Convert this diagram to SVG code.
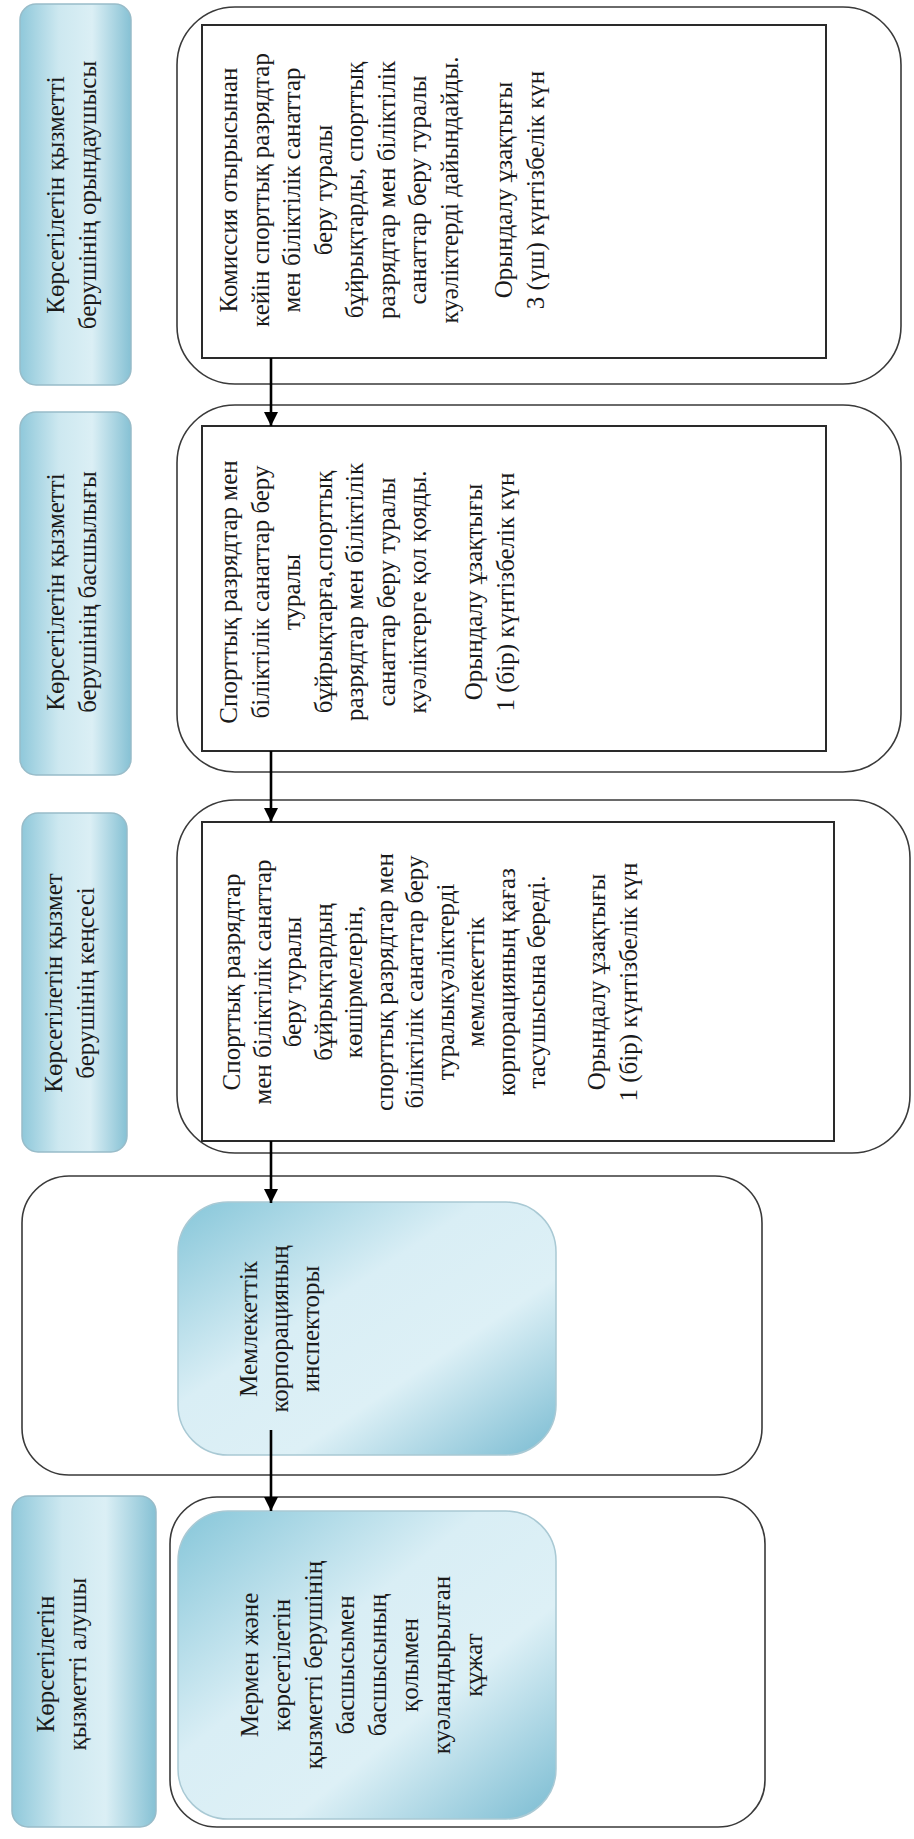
<svg xmlns="http://www.w3.org/2000/svg" width="914" height="1839" viewBox="0 0 914 1839">
<style>
.t{font-family:"Liberation Serif","Times New Roman",serif;font-size:25px;fill:#1a1a1a;text-anchor:middle}
.outer{fill:#fff;stroke:#3a3a3a;stroke-width:1.6}
.inner{fill:#fff;stroke:#2a2a2a;stroke-width:2}
.lbl{fill:url(#gLbl);stroke:#98bcc9;stroke-width:1.5}
.blue{fill:url(#gBlue);stroke:#a9c9d4;stroke-width:1.5}
.arr{stroke:#000;stroke-width:2.6;fill:none;marker-end:url(#ah)}
</style>
<defs>
<linearGradient id="gLbl" x1="0" y1="0" x2="1" y2="0">
<stop offset="0" stop-color="#8fc8da"/>
<stop offset="0.35" stop-color="#cde8f0"/>
<stop offset="0.65" stop-color="#dbeff5"/>
<stop offset="1" stop-color="#86c1d4"/>
</linearGradient>
<linearGradient id="gBlue" x1="0" y1="0" x2="1" y2="1">
<stop offset="0" stop-color="#86c6d9"/>
<stop offset="0.4" stop-color="#d9eef5"/>
<stop offset="0.65" stop-color="#ddf0f6"/>
<stop offset="1" stop-color="#7bbcd2"/>
</linearGradient>
<marker id="ah" viewBox="0 0 14 14" refX="14" refY="7" markerWidth="14" markerHeight="14" markerUnits="userSpaceOnUse" orient="auto">
<path d="M0,0 L14,7 L0,14 z" fill="#000"/>
</marker>
</defs>

<g id="lane1">
<rect id="label1" class="lbl" x="20" y="4" width="111" height="381" rx="16"/>
<text class="t" transform="translate(0,195) rotate(-90)"><tspan x="0" y="64">Көрсетілетін қызметті</tspan><tspan x="0" y="96">берушінің орындаушысы</tspan></text>
<rect class="outer" x="177" y="7" width="724" height="377" rx="58"/>
<g id="step1">
<rect class="inner" x="202" y="25" width="624" height="333"/>
<text class="t" transform="translate(0,190) rotate(-90)"><tspan x="0" y="237">Комиссия отырысынан</tspan><tspan x="0" y="268.5">кейін спорттық разрядтар</tspan><tspan x="0" y="300">мен біліктілік санаттар</tspan><tspan x="0" y="331.5">беру туралы</tspan><tspan x="0" y="363">бұйрықтарды, спорттық</tspan><tspan x="0" y="394.5">разрядтар мен біліктілік</tspan><tspan x="0" y="426">санаттар беру туралы</tspan><tspan x="0" y="457.5">куәліктерді дайындайды.</tspan><tspan x="0" y="512">Орындалу ұзақтығы</tspan><tspan x="0" y="544">3 (үш) күнтізбелік күн</tspan></text>
</g>
</g>

<g id="lane2">
<rect id="label2" class="lbl" x="20" y="412" width="111" height="363" rx="16"/>
<text class="t" transform="translate(0,592) rotate(-90)"><tspan x="0" y="64">Көрсетілетін қызметті</tspan><tspan x="0" y="96">берушінің басшылығы</tspan></text>
<rect class="outer" x="177" y="405" width="724" height="367" rx="58"/>
<g id="step2">
<rect class="inner" x="202" y="426" width="624" height="325"/>
<text class="t" transform="translate(0,592) rotate(-90)"><tspan x="0" y="237">Спорттық разрядтар мен</tspan><tspan x="0" y="268.5">біліктілік санаттар беру</tspan><tspan x="0" y="300">туралы</tspan><tspan x="0" y="331.5">бұйрықтарға,спорттық</tspan><tspan x="0" y="363">разрядтар мен біліктілік</tspan><tspan x="0" y="394.5">санаттар беру туралы</tspan><tspan x="0" y="426">куәліктерге қол қояды.</tspan><tspan x="0" y="481.5">Орындалу ұзақтығы</tspan><tspan x="0" y="513.5">1 (бір) күнтізбелік күн</tspan></text>
</g>
</g>

<g id="lane3">
<rect id="label3" class="lbl" x="22" y="813" width="105" height="339" rx="16"/>
<text class="t" transform="translate(0,983) rotate(-90)"><tspan x="0" y="62">Көрсетілетін қызмет</tspan><tspan x="0" y="94">берушінің кеңсесі</tspan></text>
<rect class="outer" x="177" y="800" width="733" height="353" rx="58"/>
<g id="step3">
<rect class="inner" x="202" y="822" width="632" height="319"/>
<text class="t" transform="translate(0,982) rotate(-90)"><tspan x="0" y="240">Спорттық разрядтар</tspan><tspan x="0" y="270.5">мен біліктілік санаттар</tspan><tspan x="0" y="301">беру туралы</tspan><tspan x="0" y="331.5">бұйрықтардың</tspan><tspan x="0" y="362">көшірмелерін,</tspan><tspan x="0" y="392.5">спорттық разрядтар мен</tspan><tspan x="0" y="423">біліктілік санаттар беру</tspan><tspan x="0" y="453.5">туралыкуәліктерді</tspan><tspan x="0" y="484">мемлекеттік</tspan><tspan x="0" y="514.5">корпорацияның қағаз</tspan><tspan x="0" y="545">тасушысына береді.</tspan><tspan x="0" y="605">Орындалу ұзақтығы</tspan><tspan x="0" y="637">1 (бір) күнтізбелік күн</tspan></text>
</g>
</g>

<g id="lane4">
<rect class="outer" x="22" y="1176" width="740" height="299" rx="47"/>
<g id="step4">
<rect class="blue" x="178" y="1202" width="378" height="253" rx="50"/>
<text class="t" transform="translate(0,1329) rotate(-90)"><tspan x="0" y="257">Мемлекеттік</tspan><tspan x="0" y="288">корпорацияның</tspan><tspan x="0" y="319">инспекторы</tspan></text>
</g>
</g>

<g id="lane5">
<rect id="label5" class="lbl" x="12" y="1496" width="144" height="331" rx="16"/>
<text class="t" transform="translate(0,1664) rotate(-90)"><tspan x="0" y="54">Көрсетілетін</tspan><tspan x="0" y="86">қызметті алушы</tspan></text>
<rect class="outer" x="170" y="1497" width="595" height="330" rx="47"/>
<g id="step5">
<rect class="blue" x="178" y="1511" width="378" height="308" rx="50"/>
<text class="t" transform="translate(0,1665) rotate(-90)"><tspan x="0" y="258">Мермен және</tspan><tspan x="0" y="290">көрсетілетін</tspan><tspan x="0" y="322">қызметті берушінің</tspan><tspan x="0" y="354">басшысымен</tspan><tspan x="0" y="386">басшысының</tspan><tspan x="0" y="418">қолымен</tspan><tspan x="0" y="450">куәландырылған</tspan><tspan x="0" y="482">құжат</tspan></text>
</g>
</g>

<g id="connectors">
<line class="arr" x1="271" y1="358" x2="271" y2="426"/>
<line class="arr" x1="271" y1="751" x2="271" y2="822"/>
<line class="arr" x1="271" y1="1141" x2="271" y2="1203"/>
<line class="arr" x1="271" y1="1430" x2="271" y2="1511"/>
</g>
</svg>
